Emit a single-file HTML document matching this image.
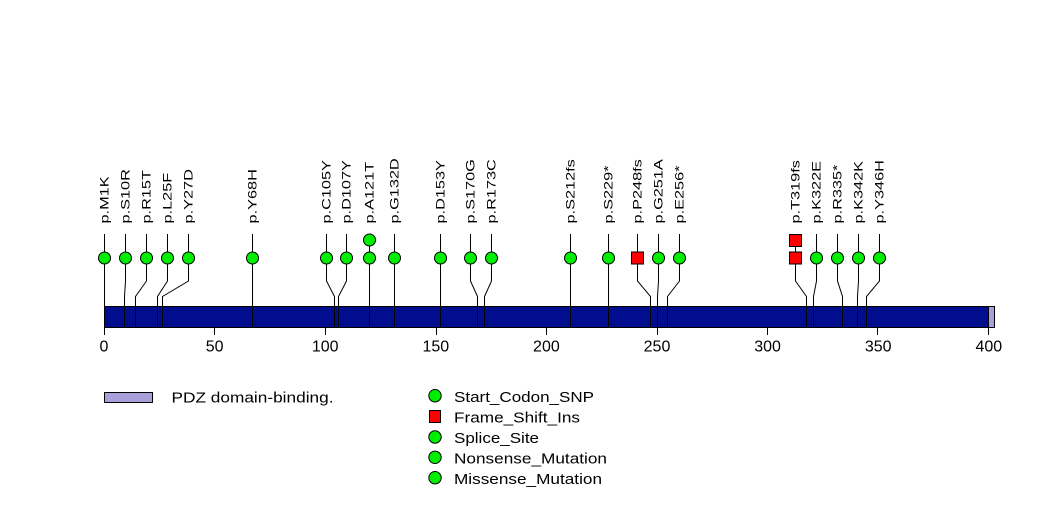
<!DOCTYPE html>
<html><head><meta charset="utf-8"><style>
html,body{margin:0;padding:0;background:#fff;}
svg{display:block;}
text{font-family:"Liberation Sans",Arial,sans-serif;fill:#000;}
</style></head><body>
<svg width="1047" height="524" viewBox="0 0 1047 524" xmlns="http://www.w3.org/2000/svg">
<rect x="0" y="0" width="1047" height="524" fill="#fff"/>

<!-- protein bar -->
<rect x="104.5" y="306.5" width="884" height="21" fill="#000e8e" stroke="#000" stroke-width="1"/>
<rect x="988.5" y="306.5" width="6" height="21" fill="#a9a0d9" stroke="#000" stroke-width="1"/>

<!-- connectors -->
<g stroke="#000" stroke-width="1" fill="none">
<polyline points="104.5,234 104.5,327"/>
<polyline points="125.5,234 125.5,281 124.5,296.5 124.5,327"/>
<polyline points="146.5,234 146.5,281 135.5,296.5 135.5,327"/>
<polyline points="167.5,234 167.5,281 157.5,296.5 157.5,327"/>
<polyline points="188.5,234 188.5,281 162.5,296.5 162.5,327"/>
<polyline points="252.5,234 252.5,327"/>
<polyline points="326.5,234 326.5,281 334.5,296.5 334.5,327"/>
<polyline points="346.5,234 346.5,281 338.5,296.5 338.5,327"/>
<polyline points="369.5,234 369.5,327"/>
<polyline points="394.5,234 394.5,327"/>
<polyline points="440.5,234 440.5,327"/>
<polyline points="470.5,234 470.5,281 477.5,296.5 477.5,327"/>
<polyline points="491.5,234 491.5,281 484.5,296.5 484.5,327"/>
<polyline points="570.5,234 570.5,327"/>
<polyline points="608.5,234 608.5,327"/>
<polyline points="637.5,234 637.5,281 650.5,296.5 650.5,327"/>
<polyline points="658.5,234 658.5,281 657.5,296.5 657.5,327"/>
<polyline points="679.5,234 679.5,281 667.5,296.5 667.5,327"/>
<polyline points="795.5,234 795.5,281 806.5,296.5 806.5,327"/>
<polyline points="816.5,234 816.5,281 813.5,296.5 813.5,327"/>
<polyline points="837.5,234 837.5,281 842.5,296.5 842.5,327"/>
<polyline points="858.5,234 858.5,281 857.5,296.5 857.5,327"/>
<polyline points="879.5,234 879.5,281 866.5,296.5 866.5,327"/>
</g>

<!-- ticks -->
<g stroke="#000" stroke-width="1">
<line x1="104.5" y1="327" x2="104.5" y2="335"/>
<line x1="214.5" y1="327" x2="214.5" y2="335"/>
<line x1="325.5" y1="327" x2="325.5" y2="335"/>
<line x1="436.5" y1="327" x2="436.5" y2="335"/>
<line x1="546.5" y1="327" x2="546.5" y2="335"/>
<line x1="657.5" y1="327" x2="657.5" y2="335"/>
<line x1="767.5" y1="327" x2="767.5" y2="335"/>
<line x1="877.5" y1="327" x2="877.5" y2="335"/>
<line x1="988.5" y1="327" x2="988.5" y2="335"/>
</g>
<g font-size="16" text-anchor="middle">
<text x="104" y="351.5">0</text>
<text x="214.6" y="351.5">50</text>
<text x="325.2" y="351.5">100</text>
<text x="435.8" y="351.5">150</text>
<text x="546.4" y="351.5">200</text>
<text x="657" y="351.5">250</text>
<text x="767.6" y="351.5">300</text>
<text x="878.2" y="351.5">350</text>
<text x="988.8" y="351.5">400</text>
</g>

<!-- markers -->
<g fill="#00ee00" stroke="#000" stroke-width="1">
<circle cx="104.5" cy="258" r="6"/>
<circle cx="125.5" cy="258" r="6"/>
<circle cx="146.5" cy="258" r="6"/>
<circle cx="167.5" cy="258" r="6"/>
<circle cx="188.5" cy="258" r="6"/>
<circle cx="252.5" cy="258" r="6"/>
<circle cx="326.5" cy="258" r="6"/>
<circle cx="346.5" cy="258" r="6"/>
<circle cx="369.5" cy="258" r="6"/>
<circle cx="369.5" cy="240" r="6"/>
<circle cx="394.5" cy="258" r="6"/>
<circle cx="440.5" cy="258" r="6"/>
<circle cx="470.5" cy="258" r="6"/>
<circle cx="491.5" cy="258" r="6"/>
<circle cx="570.5" cy="258" r="6"/>
<circle cx="608.5" cy="258" r="6"/>
<circle cx="658.5" cy="258" r="6"/>
<circle cx="679.5" cy="258" r="6"/>
<circle cx="816.5" cy="258" r="6"/>
<circle cx="837.5" cy="258" r="6"/>
<circle cx="858.5" cy="258" r="6"/>
<circle cx="879.5" cy="258" r="6"/>
</g>
<g fill="#ff0000" stroke="#000" stroke-width="1">
<rect x="631.5" y="252" width="12" height="12"/>
<rect x="789.5" y="252" width="12" height="12"/>
<rect x="789.5" y="234.5" width="12" height="12"/>
</g>

<!-- labels -->
<g font-size="12">
<text transform="translate(108.5,223.5) rotate(-90)" textLength="47.1" lengthAdjust="spacingAndGlyphs">p.M1K</text>
<text transform="translate(129.5,223.5) rotate(-90)" textLength="54.4" lengthAdjust="spacingAndGlyphs">p.S10R</text>
<text transform="translate(150.5,223.5) rotate(-90)" textLength="53.4" lengthAdjust="spacingAndGlyphs">p.R15T</text>
<text transform="translate(171.5,223.5) rotate(-90)" textLength="50.7" lengthAdjust="spacingAndGlyphs">p.L25F</text>
<text transform="translate(192.5,223.5) rotate(-90)" textLength="54.4" lengthAdjust="spacingAndGlyphs">p.Y27D</text>
<text transform="translate(256.5,223.5) rotate(-90)" textLength="54.4" lengthAdjust="spacingAndGlyphs">p.Y68H</text>
<text transform="translate(330.5,223.5) rotate(-90)" textLength="63.4" lengthAdjust="spacingAndGlyphs">p.C105Y</text>
<text transform="translate(350.5,223.5) rotate(-90)" textLength="63.4" lengthAdjust="spacingAndGlyphs">p.D107Y</text>
<text transform="translate(373.5,223.5) rotate(-90)" textLength="61.6" lengthAdjust="spacingAndGlyphs">p.A121T</text>
<text transform="translate(398.5,223.5) rotate(-90)" textLength="65.2" lengthAdjust="spacingAndGlyphs">p.G132D</text>
<text transform="translate(444.5,223.5) rotate(-90)" textLength="63.4" lengthAdjust="spacingAndGlyphs">p.D153Y</text>
<text transform="translate(474.5,223.5) rotate(-90)" textLength="64.3" lengthAdjust="spacingAndGlyphs">p.S170G</text>
<text transform="translate(495.5,223.5) rotate(-90)" textLength="64.3" lengthAdjust="spacingAndGlyphs">p.R173C</text>
<text transform="translate(574.5,223.5) rotate(-90)" textLength="64.3" lengthAdjust="spacingAndGlyphs">p.S212fs</text>
<text transform="translate(612.5,223.5) rotate(-90)" textLength="58" lengthAdjust="spacingAndGlyphs">p.S229*</text>
<text transform="translate(641.5,223.5) rotate(-90)" textLength="64.3" lengthAdjust="spacingAndGlyphs">p.P248fs</text>
<text transform="translate(662.5,223.5) rotate(-90)" textLength="64.3" lengthAdjust="spacingAndGlyphs">p.G251A</text>
<text transform="translate(683.5,223.5) rotate(-90)" textLength="58" lengthAdjust="spacingAndGlyphs">p.E256*</text>
<text transform="translate(799.5,223.5) rotate(-90)" textLength="63.4" lengthAdjust="spacingAndGlyphs">p.T319fs</text>
<text transform="translate(820.5,223.5) rotate(-90)" textLength="62.5" lengthAdjust="spacingAndGlyphs">p.K322E</text>
<text transform="translate(841.5,223.5) rotate(-90)" textLength="58.9" lengthAdjust="spacingAndGlyphs">p.R335*</text>
<text transform="translate(862.5,223.5) rotate(-90)" textLength="62.5" lengthAdjust="spacingAndGlyphs">p.K342K</text>
<text transform="translate(883.5,223.5) rotate(-90)" textLength="63.4" lengthAdjust="spacingAndGlyphs">p.Y346H</text>
</g>

<!-- legend -->
<rect x="104.5" y="392.5" width="48" height="10" fill="#a9a0d9" stroke="#000" stroke-width="1"/>
<text x="171.5" y="402.5" font-size="15" textLength="162" lengthAdjust="spacingAndGlyphs">PDZ domain-binding.</text>

<g fill="#00ee00" stroke="#000" stroke-width="1">
<circle cx="435" cy="395.7" r="6.2"/>
<circle cx="435" cy="437" r="6.2"/>
<circle cx="435" cy="457.3" r="6.2"/>
<circle cx="435" cy="477.7" r="6.2"/>
</g>
<rect x="429.5" y="410.5" width="11" height="12" fill="#ff0000" stroke="#000" stroke-width="1"/>
<g font-size="15">
<text x="454" y="402" textLength="140" lengthAdjust="spacingAndGlyphs">Start_Codon_SNP</text>
<text x="454" y="422.5" textLength="126" lengthAdjust="spacingAndGlyphs">Frame_Shift_Ins</text>
<text x="454" y="443" textLength="85" lengthAdjust="spacingAndGlyphs">Splice_Site</text>
<text x="454" y="463.5" textLength="153" lengthAdjust="spacingAndGlyphs">Nonsense_Mutation</text>
<text x="454" y="484" textLength="148" lengthAdjust="spacingAndGlyphs">Missense_Mutation</text>
</g>
</svg>
</body></html>
